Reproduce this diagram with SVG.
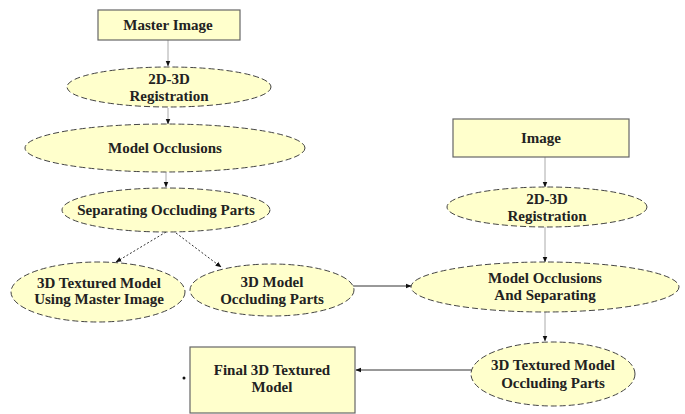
<svg xmlns="http://www.w3.org/2000/svg" width="685" height="414" viewBox="0 0 685 414">
<defs>
<style>
.box{fill:#FFFFCC;stroke:#666;stroke-width:1.2}
.ell{fill:#FFFFCC;stroke:#444;stroke-width:1;stroke-dasharray:6 3}
text{font-family:"Liberation Serif","Times New Roman",Times,serif;font-size:15px;font-weight:bold;fill:#222;text-anchor:middle}
.c{stroke:#333;stroke-width:1;fill:none}
.cl{stroke:#aaa;stroke-width:1;fill:none}
.cd{stroke:#333;stroke-width:1;fill:none;stroke-dasharray:2 2}
</style>
<marker id="ah" viewBox="0 0 10 10" refX="9" refY="5" markerWidth="6" markerHeight="6" orient="auto">
<path d="M0,1 L10,5 L0,9 z" fill="#111"/>
</marker>
</defs>
<rect width="685" height="414" fill="#fff"/>
<g id="connectors">
<line class="cl" x1="168" y1="40" x2="168" y2="66" marker-end="url(#ah)"/>
<line class="cl" x1="168" y1="108" x2="168" y2="124" marker-end="url(#ah)"/>
<line class="cl" x1="166" y1="172" x2="166" y2="187" marker-end="url(#ah)"/>
<line class="cd" x1="166" y1="232" x2="116" y2="262" marker-end="url(#ah)"/>
<line class="cd" x1="176" y1="233" x2="221" y2="267" marker-end="url(#ah)"/>
<line class="c" x1="353" y1="286" x2="411" y2="286" marker-end="url(#ah)"/>
<line class="cl" x1="545" y1="157" x2="545" y2="187" marker-end="url(#ah)"/>
<line class="cl" x1="545" y1="227" x2="545" y2="262" marker-end="url(#ah)"/>
<line class="cl" x1="545" y1="311" x2="545" y2="341" marker-end="url(#ah)"/>
<line class="c" x1="472" y1="370" x2="356" y2="370" marker-end="url(#ah)"/>
</g>
<g id="master-image">
<rect class="box" x="98" y="10" width="142" height="30"/>
<text x="168" y="30">Master Image</text>
</g>
<g id="reg1">
<ellipse class="ell" cx="169" cy="87" rx="102" ry="20"/>
<text x="169" y="84">2D-3D</text>
<text x="169" y="101">Registration</text>
</g>
<g id="occl">
<ellipse class="ell" cx="165" cy="148" rx="140" ry="24"/>
<text x="165" y="153">Model Occlusions</text>
</g>
<g id="sep">
<ellipse class="ell" cx="166" cy="210" rx="104" ry="22"/>
<text x="166" y="215">Separating Occluding Parts</text>
</g>
<g id="textured-master">
<ellipse class="ell" cx="98" cy="292" rx="87" ry="30"/>
<text x="99" y="288">3D Textured Model</text>
<text x="99" y="304">Using Master Image</text>
</g>
<g id="occluding-parts">
<ellipse class="ell" cx="272" cy="290" rx="82" ry="26"/>
<text x="272" y="287">3D Model</text>
<text x="272" y="304">Occluding Parts</text>
</g>
<g id="image">
<rect class="box" x="453" y="119" width="176" height="38"/>
<text x="541" y="143">Image</text>
</g>
<g id="reg2">
<ellipse class="ell" cx="547" cy="207" rx="100" ry="20"/>
<text x="547" y="204">2D-3D</text>
<text x="547" y="221">Registration</text>
</g>
<g id="occl-sep">
<ellipse class="ell" cx="545" cy="287" rx="134" ry="25"/>
<text x="545" y="283">Model Occlusions</text>
<text x="545" y="300">And Separating</text>
</g>
<g id="textured-occl">
<ellipse class="ell" cx="553" cy="374" rx="82" ry="32"/>
<text x="553" y="370">3D Textured Model</text>
<text x="553" y="388">Occluding Parts</text>
</g>
<g id="final">
<rect class="box" x="190" y="347" width="165" height="66"/>
<text x="272" y="375">Final 3D Textured</text>
<text x="272" y="392">Model</text>
</g>
<circle cx="184" cy="378" r="1.5" fill="#111"/>
</svg>
